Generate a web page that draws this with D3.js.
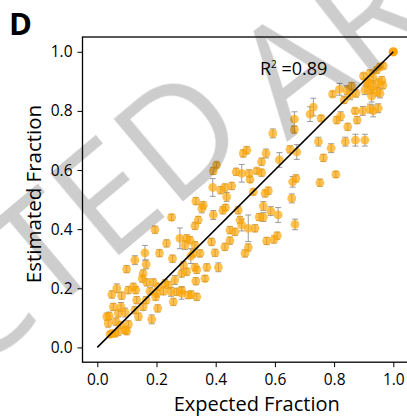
<!DOCTYPE html>
<html>
<head>
<meta charset="utf-8">
<script src="https://cdn.jsdelivr.net/npm/d3@7"></script>
<style>
  body { margin: 0; background: #fff; }
  svg { display: block; font-family: "Open Sans", sans-serif; }
</style>
</head>
<body>
<div id="vis"></div>
<script>
// expected vs estimated fraction, one entry per sample
const expectedFrac = [
  0.955,0.966,0.944,0.921,0.899,0.932,0.961,0.949,0.916,0.932,
  0.904,0.921,0.944,0.927,0.955,0.965,0.910,0.859,0.843,0.874,
  0.818,0.795,0.854,0.834,0.871,0.897,0.921,0.949,0.932,0.878,
  0.846,0.822,0.809,0.730,0.719,0.756,0.666,0.666,0.593,0.747,
  0.790,0.838,0.872,0.904,0.764,0.651,0.674,0.615,0.806,0.752,
  0.570,0.555,0.539,0.555,0.513,0.516,0.671,0.660,0.527,0.567,
  0.578,0.657,0.561,0.586,0.611,0.547,0.561,0.668,0.533,0.510,
  0.572,0.597,0.608,0.510,0.499,0.493,0.505,0.403,0.392,0.469,
  0.488,0.390,0.417,0.431,0.454,0.437,0.333,0.358,0.353,0.424,
  0.433,0.476,0.392,0.341,0.330,0.251,0.482,0.488,0.448,0.465,
  0.279,0.302,0.313,0.330,0.386,0.448,0.431,0.296,0.324,0.316,
  0.347,0.398,0.254,0.291,0.330,0.370,0.409,0.195,0.234,0.161,
  0.127,0.099,0.210,0.165,0.155,0.152,0.167,0.189,0.229,0.262,
  0.285,0.336,0.333,0.364,0.122,0.130,0.105,0.066,0.049,0.082,
  0.178,0.206,0.240,0.249,0.223,0.268,0.285,0.307,0.317,0.336,
  0.257,0.285,0.197,0.165,0.155,0.204,0.139,0.184,0.127,0.054,
  0.080,0.040,0.071,0.094,0.063,0.037,0.079,0.099,0.071,0.049,
  0.043,0.105,0.032,0.133,0.201,0.302,0.060,0.094
];
const estimatedFrac = [
  0.949,0.952,0.938,0.927,0.918,0.910,0.904,0.893,0.893,0.882,
  0.870,0.870,0.865,0.850,0.859,0.887,0.899,0.884,0.870,0.859,
  0.873,0.857,0.853,0.837,0.800,0.800,0.808,0.809,0.800,0.769,
  0.746,0.782,0.769,0.813,0.789,0.775,0.772,0.737,0.724,0.696,
  0.674,0.696,0.701,0.701,0.641,0.670,0.661,0.634,0.585,0.557,
  0.656,0.628,0.597,0.591,0.589,0.568,0.572,0.560,0.526,0.521,
  0.530,0.504,0.478,0.461,0.448,0.441,0.441,0.416,0.403,0.403,
  0.360,0.365,0.378,0.338,0.318,0.656,0.667,0.617,0.597,0.594,
  0.589,0.541,0.532,0.541,0.546,0.509,0.495,0.481,0.470,0.464,
  0.473,0.464,0.448,0.431,0.411,0.440,0.431,0.414,0.397,0.391,
  0.369,0.369,0.363,0.346,0.357,0.361,0.340,0.346,0.318,0.309,
  0.318,0.320,0.300,0.278,0.271,0.271,0.271,0.398,0.352,0.320,
  0.295,0.265,0.319,0.281,0.250,0.233,0.220,0.220,0.217,0.228,
  0.250,0.262,0.224,0.233,0.205,0.194,0.194,0.200,0.179,0.175,
  0.190,0.205,0.211,0.188,0.190,0.188,0.183,0.177,0.179,0.171,
  0.154,0.194,0.171,0.160,0.137,0.132,0.104,0.095,0.126,0.137,
  0.137,0.107,0.115,0.118,0.087,0.081,0.075,0.055,0.053,0.047,
  0.044,0.078,0.104,0.160,0.183,0.256,0.047,0.059
];
// half length of each error bar
const errHalf = [
  .010,.010,.010,.012,.010,.015,.012,.015,.012,.020,
  .015,.012,.015,.020,.015,.012,.010,.012,.015,.012,
  .020,.010,.015,.012,.010,.015,.015,.015,.020,.012,
  .012,.015,.012,.030,.025,.010,.025,.012,.015,.015,
  .015,.015,.020,.020,.012,.012,.025,.025,.010,.012,
  .015,.012,.010,.012,.012,.010,.012,.018,.010,.012,
  .012,.015,.015,.015,.025,.012,.015,.018,.012,.045,
  .012,.012,.012,.012,.012,.012,.012,.010,.012,.012,
  .030,.030,.012,.012,.012,.015,.012,.012,.015,.012,
  .010,.012,.015,.012,.012,.010,.012,.020,.012,.012,
  .035,.012,.012,.012,.012,.012,.012,.015,.012,.025,
  .012,.012,.012,.012,.012,.012,.015,.012,.012,.025,
  .015,.012,.012,.015,.012,.012,.012,.012,.012,.015,
  .012,.012,.012,.010,.012,.012,.012,.015,.012,.012,
  .012,.012,.012,.015,.012,.012,.020,.012,.012,.012,
  .012,.012,.012,.012,.012,.012,.012,.015,.012,.012,
  .015,.012,.012,.015,.012,.012,.012,.012,.012,.010,
  .010,.012,.012,.012,.012,.012,.010,.012
];
const perfectPoint = [1.0, 1.0];
const tickValues = [0, 0.2, 0.4, 0.6, 0.8, 1.0];
const r2Value = "0.89";

const W = 407, H = 417;
const margin = { top: 37, left: 82.5 };
const plotW = 325.6, plotH = 325.2;

const svg = d3.select("#vis").append("svg")
    .attr("width", W)
    .attr("height", H);

const g = svg.append("g")
    .attr("transform", `translate(${margin.left},${margin.top})`);

const x = d3.scaleLinear().domain([-0.05, 1.05]).range([0, plotW]);
const y = d3.scaleLinear().domain([-0.05, 1.05]).range([plotH, 0]);

// axes
const xAxis = g.append("g")
    .attr("transform", `translate(0,${plotH})`)
    .call(d3.axisBottom(x).tickValues(tickValues).tickFormat(d3.format(".1f"))
        .tickSize(5).tickPadding(7));
const yAxis = g.append("g")
    .call(d3.axisLeft(y).tickValues(tickValues).tickFormat(d3.format(".1f"))
        .tickSize(5).tickPadding(5));

[xAxis, yAxis].forEach(a => {
    a.select(".domain").remove();
    a.selectAll("line").attr("stroke", "#000").attr("stroke-width", 1);
    a.selectAll("text")
        .attr("fill", "#000")
        .style("font-family", "'Open Sans', sans-serif")
        .style("font-size", "15.5px");
});

// frame (right edge falls just outside the picture)
g.append("rect")
    .attr("x", 0).attr("y", 0)
    .attr("width", plotW).attr("height", plotH)
    .attr("fill", "none")
    .attr("stroke", "#000")
    .attr("stroke-width", 1.3);

const pts = expectedFrac.map((v, i) => ({ ex: v, es: estimatedFrac[i], e: errHalf[i] }));

// error bars
const bars = g.append("g")
    .attr("stroke", "#8a8a8a")
    .attr("stroke-width", 1)
    .attr("stroke-opacity", 0.85);

bars.selectAll("line.v")
    .data(pts)
    .enter().append("line")
    .attr("class", "v")
    .attr("x1", d => x(d.ex)).attr("x2", d => x(d.ex))
    .attr("y1", d => y(d.es - d.e)).attr("y2", d => y(d.es + d.e));

bars.selectAll("line.lo")
    .data(pts)
    .enter().append("line")
    .attr("class", "lo")
    .attr("x1", d => x(d.ex) - 3).attr("x2", d => x(d.ex) + 3)
    .attr("y1", d => y(d.es - d.e)).attr("y2", d => y(d.es - d.e));

bars.selectAll("line.hi")
    .data(pts)
    .enter().append("line")
    .attr("class", "hi")
    .attr("x1", d => x(d.ex) - 3).attr("x2", d => x(d.ex) + 3)
    .attr("y1", d => y(d.es + d.e)).attr("y2", d => y(d.es + d.e));

// points
g.append("g")
    .selectAll("circle")
    .data(pts)
    .enter().append("circle")
    .attr("cx", d => x(d.ex))
    .attr("cy", d => y(d.es))
    .attr("r", 4.4)
    .attr("fill", "#ffa500")
    .attr("fill-opacity", 0.68);

g.append("circle")
    .attr("cx", x(perfectPoint[0]))
    .attr("cy", y(perfectPoint[1]))
    .attr("r", 4.6)
    .attr("fill", "#ffa500");

// identity line
g.append("line")
    .attr("x1", x(0)).attr("y1", y(0))
    .attr("x2", x(1)).attr("y2", y(1))
    .attr("stroke", "#000")
    .attr("stroke-width", 1.6);

// R^2 annotation
const r2 = svg.append("text")
    .attr("x", 260).attr("y", 75)
    .style("font-size", "18px")
    .attr("fill", "#000");
r2.append("tspan").text("R");
r2.append("tspan").attr("dy", -7).style("font-size", "10px").text("2");
r2.append("tspan").attr("dy", 7).text(" =" + r2Value);

// axis titles
svg.append("text")
    .attr("x", 256.7).attr("y", 411)
    .attr("text-anchor", "middle")
    .style("font-size", "20px")
    .text("Expected Fraction");

svg.append("text")
    .attr("transform", "translate(41,194) rotate(-90)")
    .attr("text-anchor", "middle")
    .style("font-size", "20.5px")
    .text("Estimated Fraction");

// panel letter
svg.append("text")
    .attr("x", 9).attr("y", 35)
    .style("font-size", "31px")
    .style("font-weight", "bold")
    .text("D");

// watermark overlay, two words on a slanted line
const wm = svg.append("g")
    .style("mix-blend-mode", "multiply")
    .attr("fill", "#cdcdcd")
    .style("font-size", "150px");
wm.append("text")
    .attr("transform", "translate(255,141) rotate(-40)")
    .attr("text-anchor", "end")
    .text("RETRACTED");
wm.append("text")
    .attr("transform", "translate(287,142) rotate(-38)")
    .attr("text-anchor", "start")
    .text("ARTICLE");
</script>
</body>
</html>
